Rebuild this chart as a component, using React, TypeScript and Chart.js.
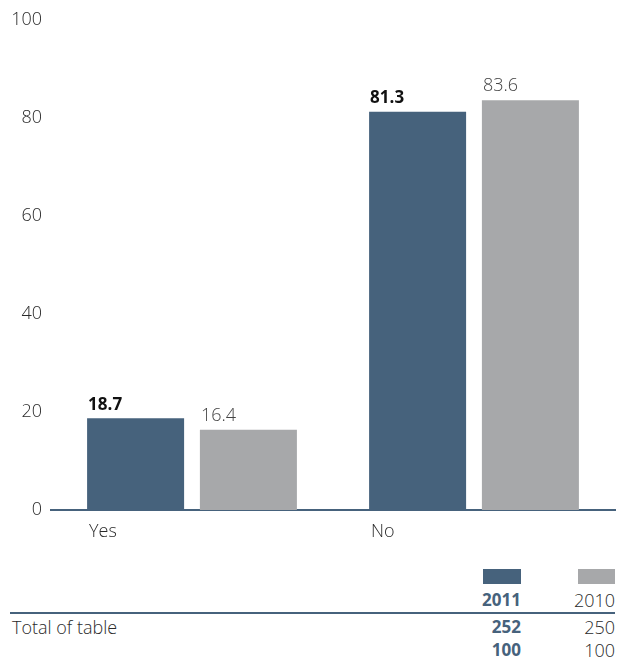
import React, { useEffect, useRef } from "react";
import { Chart, registerables } from "chart.js";

Chart.register(...registerables);

const categories = ["Yes", "No"];
const series2011 = [18.7, 81.3];
const series2010 = [16.4, 83.6];
const yTicks = [0, 20, 40, 60, 80, 100];
const legendYears = ["2011", "2010"];
const totals2011 = ["252", "100"];
const totals2010 = ["250", "100"];
const totalLabel = "Total of table";

const DARK = "#46627c";
const GRAY = "#a7a8aa";
const FONT = "'Open Sans', Lato, sans-serif";

const valueLabels = {
  id: "valueLabels",
  afterDatasetsDraw(chart: any) {
    const ctx = chart.ctx;
    chart.data.datasets.forEach((ds: any, di: number) => {
      const meta = chart.getDatasetMeta(di);
      meta.data.forEach((bar: any, i: number) => {
        const v = ds.data[i];
        ctx.save();
        ctx.font = di === 0 ? `bold 17px ${FONT}` : `300 18px ${FONT}`;
        ctx.fillStyle = di === 0 ? "#111111" : "#444444";
        ctx.textAlign = "left";
        ctx.textBaseline = "bottom";
        ctx.fillText(v.toFixed(1), bar.x - bar.width / 2 + 1, bar.y - 5);
        ctx.restore();
      });
    });
  },
};

export default function App() {
  const ref = useRef<HTMLCanvasElement>(null);
  useEffect(() => {
    document.body.style.margin = "0";
    const chart = new Chart(ref.current!, {
      type: "bar",
      data: {
        labels: categories,
        datasets: [
          { label: legendYears[0], data: series2011, backgroundColor: DARK },
          { label: legendYears[1], data: series2010, backgroundColor: GRAY },
        ],
      },
      options: {
        animation: false,
        responsive: false,
        layout: { padding: { top: 20, right: 4, left: 0, bottom: 0 } },
        plugins: { legend: { display: false }, tooltip: { enabled: false } },
        datasets: { bar: { categoryPercentage: 0.8, barPercentage: 0.86 } } as any,
        scales: {
          x: {
            offset: true,
            grid: { display: false },
            border: { color: DARK, width: 2 },
            ticks: {
              align: "start",
              labelOffset: -103,
              padding: 3,
              color: "#2a2a2a",
              font: { family: FONT, size: 18, weight: 300 as any },
            },
            afterFit(scale: any) {
              scale.height = 40;
            },
          },
          y: {
            min: 0,
            max: 100,
            afterBuildTicks(scale: any) {
              scale.ticks = yTicks.map((v) => ({ value: v }));
            },
            grid: { display: false },
            border: { display: false },
            ticks: {
              padding: 1,
              color: "#2a2a2a",
              font: { family: FONT, size: 18, weight: 300 as any },
            },
            afterFit(scale: any) {
              scale.width = 51;
            },
          },
        },
      },
      plugins: [valueLabels],
    });
    return () => chart.destroy();
  }, []);

  const txt: React.CSSProperties = {
    position: "absolute",
    fontFamily: FONT,
    fontSize: 18,
    lineHeight: "20px",
  };

  return (
    <div style={{ position: "relative", width: 619, height: 657, background: "#fff" }}>
      <canvas ref={ref} width={619} height={550} style={{ position: "absolute", left: 0, top: 0 }} />
      <div style={{ position: "absolute", left: 483, top: 569, width: 38, height: 15, background: DARK }} />
      <div style={{ position: "absolute", left: 578, top: 569, width: 37, height: 15, background: GRAY }} />
      <div style={{ ...txt, fontSize: 17, right: 619 - 521, top: 590, fontWeight: 700, color: DARK }}>{legendYears[0]}</div>
      <div style={{ ...txt, right: 619 - 615, top: 590, fontWeight: 300, color: "#2a2a2a" }}>{legendYears[1]}</div>
      <div style={{ position: "absolute", left: 10, top: 612, width: 605, height: 2, background: DARK }} />
      <div style={{ ...txt, left: 12, top: 617, fontWeight: 300, color: "#2a2a2a" }}>{totalLabel}</div>
      <div style={{ ...txt, fontSize: 17, right: 619 - 521, top: 617, fontWeight: 700, color: DARK }}>{totals2011[0]}</div>
      <div style={{ ...txt, right: 619 - 615, top: 617, fontWeight: 300, color: "#2a2a2a" }}>{totals2010[0]}</div>
      <div style={{ ...txt, fontSize: 17, right: 619 - 521, top: 640, fontWeight: 700, color: DARK }}>{totals2011[1]}</div>
      <div style={{ ...txt, right: 619 - 615, top: 640, fontWeight: 300, color: "#2a2a2a" }}>{totals2010[1]}</div>
    </div>
  );
}
